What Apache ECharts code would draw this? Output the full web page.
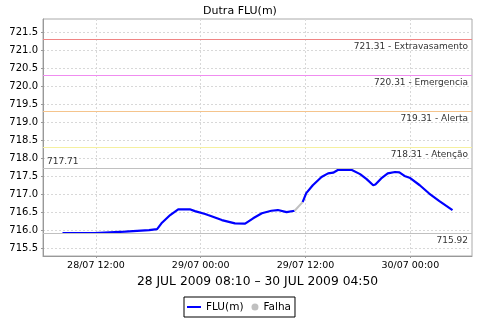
<!DOCTYPE html>
<html><head><meta charset="utf-8">
<script src="https://cdn.jsdelivr.net/npm/echarts@6/dist/echarts.min.js"></script>
<style>html,body{margin:0;padding:0;background:#fff}#c{width:480px;height:320px}</style>
</head><body><div id="c"></div>
<script>
var chartTitle = 'Dutra FLU(m)';
var xAxisName = '28 JUL 2009 08:10 \u2013 30 JUL 2009 04:50';
var fluTimes = ['2009-07-28 08:10','2009-07-28 11:50','2009-07-28 11:55','2009-07-28 13:35','2009-07-28 13:40','2009-07-28 15:20','2009-07-28 15:25','2009-07-28 18:05','2009-07-28 18:10','2009-07-28 19:00','2009-07-28 19:30','2009-07-28 20:30','2009-07-28 21:25','2009-07-28 22:45','2009-07-28 23:20','2009-07-29 00:30','2009-07-29 00:50','2009-07-29 02:25','2009-07-29 03:55','2009-07-29 05:05','2009-07-29 06:00','2009-07-29 07:00','2009-07-29 08:05','2009-07-29 08:50','2009-07-29 09:50','2009-07-29 10:45','2009-07-29 11:10','2009-07-29 11:40','2009-07-29 12:05','2009-07-29 12:50','2009-07-29 13:50','2009-07-29 14:35','2009-07-29 15:10','2009-07-29 15:45','2009-07-29 17:15','2009-07-29 18:15','2009-07-29 19:00','2009-07-29 19:45','2009-07-29 20:00','2009-07-29 20:40','2009-07-29 21:25','2009-07-29 22:15','2009-07-29 22:45','2009-07-29 23:20','2009-07-29 23:55','2009-07-30 01:05','2009-07-30 02:10','2009-07-30 03:20','2009-07-30 04:50'];
var fluValues = [715.92,715.92,715.94,715.94,715.96,715.96,716.00,716.00,716.03,716.03,716.19,716.42,716.58,716.58,716.53,716.45,716.42,716.28,716.19,716.18,716.33,716.47,716.54,716.56,716.50,716.54,null,716.78,717.03,717.25,717.48,717.58,717.60,717.68,717.68,717.56,717.42,717.25,717.27,717.44,717.58,717.62,717.61,717.51,717.46,717.25,717.02,716.81,716.56];
var falhaTimes = ['2009-07-29 10:45','2009-07-29 11:40'];
var falhaValues = [716.54,716.78];
var levelValues = [721.31,720.31,719.31,718.31];
var levelNames = ['Extravasamento','Emergencia','Alerta','Aten\u00e7\u00e3o'];
var levelColors = ['#f08484','#f08cf0','#f5c48c','#f5f0a0'];
var maxValue = 717.71;
var minValue = 715.92;
var yTicks = [715.5,716.0,716.5,717.0,717.5,718.0,718.5,719.0,719.5,720.0,720.5,721.0,721.5];
var xTickTimes = ['2009-07-28 12:00','2009-07-29 00:00','2009-07-29 12:00','2009-07-30 00:00'];
var xMinTime = '2009-07-28 05:56';
var xMaxTime = '2009-07-30 07:04';
var yMin = 715.28, yMax = 721.88;

function t(s){var p=s.split(/[- :]/).map(Number);return new Date(p[0],p[1]-1,p[2],p[3],p[4]).getTime();}
function pad(n){return (n<10?'0':'')+n;}
var fluData = fluTimes.map(function(s,i){return [t(s),fluValues[i]];});
var falhaData = falhaTimes.map(function(s,i){return [t(s),falhaValues[i]];});
var xTicks = xTickTimes.map(t);
var font = 'DejaVu Sans';

var markData = levelValues.map(function(v,i){
  return {yAxis:v, lineStyle:{color:levelColors[i],type:'solid',width:1},
    label:{formatter:v.toFixed(2)+' - '+levelNames[i], position:'insideEndBottom'}};
});
markData.push({yAxis:maxValue, lineStyle:{color:'#c0c0c0',type:'solid',width:1},
  label:{formatter:maxValue.toFixed(2), position:'insideStartTop'}});
markData.push({yAxis:minValue, lineStyle:{color:'#c0c0c0',type:'solid',width:1},
  label:{formatter:minValue.toFixed(2), position:'insideEndBottom'}});

var lineIcon = 'path://M0,0L0.01,0L0.01,0.01Z M0,2.5L14,2.5L14,4.5L0,4.5Z M13.99,6.99L14,7L13.99,7Z';
var dotIcon = 'path://M0,0L0.01,0L0.01,0.01Z M7,3.5A3.5,3.5 0 1 1 14,3.5A3.5,3.5 0 1 1 7,3.5Z';

var chart = echarts.init(document.getElementById('c'), null, {renderer:'canvas'});
chart.setOption({
  animation:false,
  backgroundColor:'#fff',
  title:{text:chartTitle,left:'center',top:1,textStyle:{fontFamily:font,fontSize:11,fontWeight:'normal',color:'#000'}},
  grid:{left:43,right:8,top:19,bottom:64,show:true,borderColor:'#aaaaaa',borderWidth:1},
  legend:{left:184,top:297,padding:[3,4,3,3],itemGap:1,borderColor:'#000',borderWidth:1,
    itemWidth:14,itemHeight:7,textStyle:{fontFamily:font,fontSize:10.5,color:'#000',lineHeight:14},
    data:[{name:'FLU(m)',icon:lineIcon},{name:'Falha',icon:dotIcon}]},
  xAxis:{type:'value',min:t(xMinTime),max:t(xMaxTime),
    name:xAxisName,nameLocation:'middle',nameGap:20,nameTextStyle:{fontFamily:font,fontSize:12.3,color:'#000'},
    axisLine:{lineStyle:{color:'#999'}},
    axisTick:{show:true,length:2,lineStyle:{color:'#999'},customValues:xTicks},
    axisLabel:{customValues:xTicks,fontFamily:font,fontSize:9.5,color:'#000',margin:5,
      formatter:function(v){var d=new Date(v);return pad(d.getDate())+'/'+pad(d.getMonth()+1)+' '+pad(d.getHours())+':'+pad(d.getMinutes());}},
    splitLine:{show:true,lineStyle:{color:'#d8d8d8',type:[2,2]}}},
  yAxis:{type:'value',min:yMin,max:yMax,
    axisLine:{show:true,lineStyle:{color:'#999'}},
    axisTick:{show:true,length:2,lineStyle:{color:'#999'},customValues:yTicks},
    axisLabel:{customValues:yTicks,fontFamily:font,fontSize:10,color:'#000',margin:5,formatter:function(v){return v.toFixed(1);}},
    splitLine:{show:true,lineStyle:{color:'#d8d8d8',type:[2,2]}}},
  series:[
    {name:'FLU(m)',type:'line',data:fluData,symbol:'none',connectNulls:false,itemStyle:{color:'#0000ff'},lineStyle:{color:'#0000ff',width:2.2},
      markLine:{silent:true,symbol:'none',animation:false,label:{fontFamily:font,fontSize:9,color:'#333',distance:[4,3]},data:markData}},
    {name:'Falha',type:'line',data:falhaData,symbol:'none',itemStyle:{color:'#c0c0c0'},lineStyle:{color:'#c0c0c0',width:2}}
  ]
});
</script></body></html>
